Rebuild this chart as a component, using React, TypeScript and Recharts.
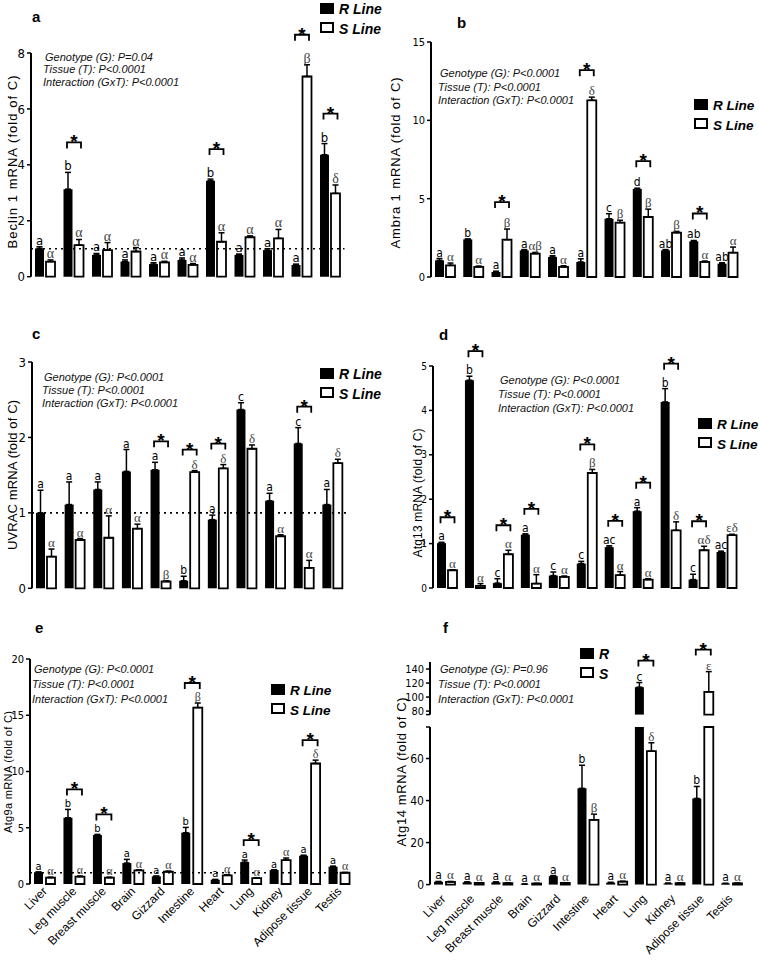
import { Bar, BarChart, ErrorBar, LabelList, ReferenceLine, XAxis, YAxis } from "recharts";

const FONT = "'Liberation Sans', Arial, sans-serif";
const NARROW = "'Liberation Sans Narrow', 'DejaVu Sans Condensed', 'Liberation Sans', sans-serif";
const SERIF = "'Liberation Serif', 'DejaVu Serif', serif";

const TISSUES = ["Liver", "Leg muscle", "Breast muscle", "Brain", "Gizzard", "Intestine", "Heart", "Lung", "Kidney", "Adipose tissue", "Testis"];

// a - Beclin 1
const BECLIN_R = [1.01, 3.13, 0.78, 0.54, 0.45, 0.6, 3.43, 0.78, 0.95, 0.42, 4.36];
const BECLIN_R_SEM = [0.06, 0.6, 0.05, 0.06, 0.05, 0.07, 0.06, 0.03, 0.05, 0.03, 0.4];
const BECLIN_S = [0.54, 1.13, 0.95, 0.9, 0.51, 0.42, 1.25, 1.41, 1.37, 7.16, 2.98];
const BECLIN_S_SEM = [0.06, 0.2, 0.27, 0.14, 0.04, 0.05, 0.32, 0.05, 0.32, 0.42, 0.3];
const BECLIN_R_LET = ["a", "b", "a", "a", "a", "a", "b", "a", "a", "a", "b"];
const BECLIN_S_LET = ["α", "α", "α", "α", "α", "α", "α", "α", "α", "β", "δ"];
const BECLIN_SIG = [false, true, false, false, false, false, true, false, false, true, true];

// b - Ambra 1
const AMBRA_R = [1.06, 2.4, 0.32, 1.7, 1.28, 0.96, 3.72, 5.62, 1.7, 2.28, 0.85];
const AMBRA_R_SEM = [0.12, 0.03, 0.05, 0.05, 0.08, 0.2, 0.32, 0.05, 0.05, 0.05, 0.06];
const AMBRA_S = [0.74, 0.64, 2.38, 1.49, 0.64, 11.28, 3.47, 3.83, 2.83, 0.96, 1.55];
const AMBRA_S_SEM = [0.15, 0.06, 0.68, 0.08, 0.08, 0.2, 0.15, 0.5, 0.08, 0.06, 0.36];
const AMBRA_R_LET = ["a", "b", "a", "a", "a", "a", "c", "d", "ab", "ab", "ab"];
const AMBRA_S_LET = ["α", "α", "β", "αβ", "α", "δ", "β", "β", "β", "α", "α"];
const AMBRA_SIG = [false, false, true, false, false, true, false, true, false, true, false];

// c - UVRAC
const UVRAC_R = [1.0, 1.11, 1.31, 1.55, 1.57, 0.1, 0.91, 2.37, 1.16, 1.92, 1.11];
const UVRAC_R_SEM = [0.3, 0.3, 0.1, 0.29, 0.1, 0.06, 0.06, 0.09, 0.1, 0.21, 0.2];
const UVRAC_S = [0.42, 0.64, 0.67, 0.79, 0.09, 1.54, 1.59, 1.85, 0.69, 0.27, 1.66];
const UVRAC_S_SEM = [0.1, 0.02, 0.29, 0.06, 0.01, 0.02, 0.05, 0.05, 0.02, 0.1, 0.05];
const UVRAC_R_LET = ["a", "a", "a", "a", "a", "b", "a", "c", "a", "c", "a"];
const UVRAC_S_LET = ["α", "α", "α", "α", "β", "δ", "δ", "δ", "α", "α", "δ"];
const UVRAC_SIG = [false, false, false, false, true, true, true, false, false, true, false];

// d - Atg13
const ATG13_R = [1.01, 4.68, 0.11, 1.2, 0.28, 0.55, 0.92, 1.73, 4.19, 0.19, 0.81];
const ATG13_R_SEM = [0.02, 0.09, 0.1, 0.02, 0.08, 0.05, 0.03, 0.08, 0.3, 0.12, 0.02];
const ATG13_S = [0.4, 0.05, 0.76, 0.1, 0.25, 2.59, 0.29, 0.19, 1.3, 0.85, 1.19];
const ATG13_S_SEM = [0.01, 0.05, 0.09, 0.2, 0.02, 0.08, 0.08, 0.02, 0.19, 0.09, 0.02];
const ATG13_R_LET = ["a", "b", "c", "a", "c", "c", "ac", "a", "b", "c", "ac"];
const ATG13_S_LET = ["α", "α", "α", "α", "α", "β", "α", "α", "δ", "αδ", "εδ"];
const ATG13_SIG = [true, true, true, true, false, true, true, true, true, true, false];

// e - Atg9a
const ATG9_R = [1.04, 5.89, 4.35, 1.86, 0.68, 4.56, 0.38, 1.95, 1.24, 2.51, 1.54];
const ATG9_R_SEM = [0.03, 0.74, 0.06, 0.33, 0.03, 0.47, 0.03, 0.18, 0.03, 0.05, 0.05];
const ATG9_S = [0.56, 0.65, 0.56, 1.21, 1.09, 15.68, 0.77, 0.53, 2.13, 10.71, 1.0];
const ATG9_S_SEM = [0.05, 0.06, 0.05, 0.05, 0.06, 0.41, 0.06, 0.03, 0.18, 0.3, 0.03];
const ATG9_R_LET = ["a", "b", "b", "a", "a", "b", "a", "a", "a", "a", "a"];
const ATG9_S_LET = ["α", "α", "α", "α", "α", "β", "α", "α", "α", "δ", "α"];
const ATG9_SIG = [false, true, true, false, false, true, false, true, false, true, false];

// f - Atg14 (broken axis)
const ATG14_R = [1.3, 1.1, 1.1, 0.2, 4.0, 45.8, 0.9, 114.1, 0.6, 41.0, 0.5];
const ATG14_R_SEM = [0.2, 0.2, 0.2, 0.1, 0.3, 11, 0.2, 6.6, 0.1, 5.7, 0.1];
const ATG14_S = [1.3, 0.8, 0.7, 0.5, 0.8, 30.8, 1.4, 63.5, 0.7, 107.3, 0.6];
const ATG14_S_SEM = [0.2, 0.1, 0.1, 0.1, 0.1, 2.7, 0.2, 4, 0.1, 29, 0.1];
const ATG14_R_LET = ["a", "a", "a", "a", "a", "b", "a", "c", "a", "b", "a"];
const ATG14_S_LET = ["α", "α", "α", "α", "α", "β", "α", "δ", "α", "ε", "α"];
const ATG14_SIG = [false, false, false, false, false, false, false, true, false, true, false];
const ATG14_BREAK = 75;

const STATS_A = ["Genotype (G): P=0.04", "Tissue (T): P<0.0001", "Interaction (GxT): P<0.0001"];
const STATS_B = ["Genotype (G): P<0.0001", "Tissue (T): P<0.0001", "Interaction (GxT): P<0.0001"];
const STATS_F = ["Genotype (G): P=0.96", "Tissue (T): P<0.0001", "Interaction (GxT): P<0.0001"];

type Series = {
  r: number[]; rErr: number[]; s: number[]; sErr: number[];
  rLet: string[]; sLet: string[]; sig: boolean[];
};

const BECLIN: Series = { r: BECLIN_R, rErr: BECLIN_R_SEM, s: BECLIN_S, sErr: BECLIN_S_SEM, rLet: BECLIN_R_LET, sLet: BECLIN_S_LET, sig: BECLIN_SIG };
const AMBRA: Series = { r: AMBRA_R, rErr: AMBRA_R_SEM, s: AMBRA_S, sErr: AMBRA_S_SEM, rLet: AMBRA_R_LET, sLet: AMBRA_S_LET, sig: AMBRA_SIG };
const UVRAC: Series = { r: UVRAC_R, rErr: UVRAC_R_SEM, s: UVRAC_S, sErr: UVRAC_S_SEM, rLet: UVRAC_R_LET, sLet: UVRAC_S_LET, sig: UVRAC_SIG };
const ATG13: Series = { r: ATG13_R, rErr: ATG13_R_SEM, s: ATG13_S, sErr: ATG13_S_SEM, rLet: ATG13_R_LET, sLet: ATG13_S_LET, sig: ATG13_SIG };
const ATG9: Series = { r: ATG9_R, rErr: ATG9_R_SEM, s: ATG9_S, sErr: ATG9_S_SEM, rLet: ATG9_R_LET, sLet: ATG9_S_LET, sig: ATG9_SIG };
const ATG14: Series = { r: ATG14_R, rErr: ATG14_R_SEM, s: ATG14_S, sErr: ATG14_S_SEM, rLet: ATG14_R_LET, sLet: ATG14_S_LET, sig: ATG14_SIG };

type PanelProps = {
  d: Series;
  left: number; top: number; w: number; h: number;
  domain: [number, number]; ticks: number[]; hideTick?: number;
  barSize: number; gap: number; bracket: number;
  tickFont: number; letFont: number;
  refY?: number;
  labels?: { dx: number; dy: number };
  part?: "lower" | "upper"; cut?: number;
};

const AXIS_W = 30;

function Panel(p: PanelProps) {
  const { d, domain, h } = p;
  const cut = p.cut ?? 0;
  const ratio = h / (domain[1] - domain[0]);
  const band = p.w / TISSUES.length;
  const seen = (v: number) => (p.part === "lower" ? v <= cut : p.part === "upper" ? v > cut : true);
  // upper part of a broken axis: bars below the break sit at the break (zero height)
  const val = (v: number) => (p.part === "lower" ? Math.min(v, cut) : seen(v) ? v : cut);
  const rows = TISSUES.map((name, i) => ({
    name,
    r: val(d.r[i]),
    s: val(d.s[i]),
    re: seen(d.r[i]) ? [0, d.rErr[i]] : null,
    se: seen(d.s[i]) ? [0, d.sErr[i]] : null
  }));

  const annot = (k: 0 | 1) => (props: any) => {
    const vb = props.viewBox && props.viewBox.width != null ? props.viewBox : props;
    if (vb.x == null || !vb.width) return null;
    const cx = vb.x + vb.width / 2;
    // which tissue this bar belongs to, from its band on the category axis
    const i = Math.floor((cx - AXIS_W) / band);
    if (i < 0 || i >= TISSUES.length) return null;
    const v = k === 0 ? d.r[i] : d.s[i];
    const e = k === 0 ? d.rErr[i] : d.sErr[i];
    if (!seen(v)) return null;
    const top = Math.min(vb.y, vb.y + vb.height);
    const errTop = top - e * ratio;
    const other = k === 0 ? d.s[i] + d.sErr[i] : d.r[i] + d.rErr[i];
    const taller = k === 0 ? v + e > other : v + e >= other;
    let bracket = null;
    if (d.sig[i] && taller) {
      const oc = k === 0 ? cx + vb.width + p.gap : cx - vb.width - p.gap;
      const x1 = Math.min(cx, oc) - 1;
      const x2 = Math.max(cx, oc) + 2;
      const by = errTop - p.bracket;
      bracket = (
        <g>
          <path d={`M${x1},${by + 6}V${by}H${x2}V${by + 6}`} fill="none" stroke="#000" strokeWidth={1.8} />
          <text x={(x1 + x2) / 2} y={by + 6} textAnchor="middle" fontSize={19} fontWeight="bold" fontFamily={FONT}>*</text>
        </g>
      );
    }
    return (
      <g>
        <text
          x={cx}
          y={errTop - 2}
          textAnchor="middle"
          fontSize={k === 0 ? p.letFont : p.letFont + 1}
          fill={k === 0 ? "#000" : "#444"}
          fontFamily={k === 0 ? NARROW : SERIF}
        >
          {k === 0 ? d.rLet[i] : d.sLet[i]}
        </text>
        {bracket}
      </g>
    );
  };

  const xh = p.labels ? 80 : 0;
  const bottom = p.labels ? 2 : 10;
  const tissueTick = (tp: any) => {
    const lx = tp.x + p.labels!.dx;
    const ly = tp.y + p.labels!.dy;
    return (
      <text x={lx} y={ly} transform={`rotate(-45 ${lx} ${ly})`} textAnchor="end" fontSize={12} fontFamily={FONT} fill="#000">
        {tp.payload.value}
      </text>
    );
  };

  return (
    <div style={{ position: "absolute", left: p.left - AXIS_W, top: p.top - 50 }}>
      <BarChart
        width={AXIS_W + p.w + 20}
        height={50 + h + xh + bottom}
        data={rows}
        margin={{ top: 50, right: 20, bottom, left: 0 }}
        barSize={p.barSize}
        barGap={p.gap}
      >
        {p.labels ? (
          <XAxis
            dataKey="name"
            interval={0}
            tickLine={false}
            axisLine={false}
            tickSize={0}
            tickMargin={0}
            height={xh}
            tick={tissueTick}
          />
        ) : (
          <XAxis dataKey="name" hide />
        )}
        <YAxis
          type="number"
          domain={domain}
          ticks={p.ticks}
          interval={0}
          width={AXIS_W}
          axisLine={{ stroke: "#000", strokeWidth: 2 }}
          tickLine={{ stroke: "#000", strokeWidth: 1.5 }}
          tickSize={4}
          tick={{ fontSize: p.tickFont, fill: "#000", fontFamily: NARROW }}
          tickFormatter={(v: number) => (v === p.hideTick ? "" : String(v))}
        />
        {p.refY != null && <ReferenceLine y={p.refY} stroke="#000" strokeWidth={1.6} strokeDasharray="2 4" />}
        <Bar dataKey="r" fill="#000" isAnimationActive={false}>
          <ErrorBar dataKey="re" width={3} stroke="#000" strokeWidth={1.5} direction="y" />
          <LabelList dataKey="r" content={annot(0)} />
        </Bar>
        <Bar dataKey="s" fill="#fff" stroke="#000" strokeWidth={1.8} isAnimationActive={false}>
          <ErrorBar dataKey="se" width={3} stroke="#000" strokeWidth={1.5} direction="y" />
          <LabelList dataKey="s" content={annot(1)} />
        </Bar>
      </BarChart>
    </div>
  );
}

function Stats({ x, y, lines, step }: { x: number; y: number; lines: string[]; step: number }) {
  return (
    <g fontFamily={FONT} fontStyle="italic" fontSize={11} fill="#111">
      {lines.map((t, i) => (
        <text key={t} x={x - (i === 0 ? 0 : 2)} y={y + i * step}>{t}</text>
      ))}
    </g>
  );
}

function Key({ x, y, r, s, font }: { x: number; y: number; r: string; s: string; font: number }) {
  return (
    <g fontFamily={FONT} fontStyle="italic" fontWeight="bold" fontSize={font}>
      <rect x={x} y={y} width={14} height={11} fill="#000" />
      <rect x={x + 1} y={y + 20} width={12} height={9} fill="#fff" stroke="#000" strokeWidth={2} />
      <text x={x + 19} y={y + 11}>{r}</text>
      <text x={x + 19} y={y + 31}>{s}</text>
    </g>
  );
}

function YTitle({ x, y, text, len, font }: { x: number; y: number; text: string; len: number; font: number }) {
  return (
    <text
      transform={`translate(${x},${y}) rotate(-90)`}
      textAnchor="middle"
      dominantBaseline="central"
      fontFamily={FONT}
      fontSize={font}
      textLength={len}
      lengthAdjust="spacing"
    >
      {text}
    </text>
  );
}

export default function App() {
  return (
    <div style={{ position: "absolute", left: 0, top: 0, width: 759, height: 966, background: "#fff", overflow: "hidden" }}>
      <Panel d={BECLIN} left={31} top={53.3} w={313.5} h={223.7} domain={[0, 8]} ticks={[0, 2, 4, 6, 8]}
        barSize={9} gap={2} bracket={30} tickFont={13} letFont={13} refY={1} />
      <Panel d={AMBRA} left={431} top={41.7} w={310.8} h={235} domain={[0, 15]} ticks={[0, 5, 10, 15]}
        barSize={9} gap={2} bracket={27} tickFont={11} letFont={12} />
      <Panel d={UVRAC} left={32.2} top={361.7} w={315} h={226.3} domain={[0, 3]} ticks={[0, 1, 2, 3]}
        barSize={9} gap={2} bracket={21} tickFont={13} letFont={12} refY={1} />
      <Panel d={ATG13} left={433} top={365.7} w={307.5} h={222} domain={[0, 5]} ticks={[0, 1, 2, 3, 4, 5]}
        barSize={9} gap={2} bracket={25} tickFont={10} letFont={12} />
      <Panel d={ATG9} left={29.6} top={659} w={324} h={225} domain={[0, 20]} ticks={[0, 5, 10, 15, 20]}
        barSize={9} gap={3} bracket={20} tickFont={11} letFont={11} refY={1} labels={{ dx: 3, dy: 8 }} />
      <Panel d={ATG14} left={429.5} top={661.7} w={315.7} h={52.6} domain={[75, 150]} ticks={[75, 80, 100, 120, 140]} hideTick={75}
        barSize={9} gap={3} bracket={22} tickFont={11} letFont={12} part="upper" cut={ATG14_BREAK} />
      <Panel d={ATG14} left={429.5} top={726.7} w={315.7} h={157.6} domain={[0, 75]} ticks={[0, 20, 40, 60, 75]} hideTick={75}
        barSize={9} gap={3} bracket={22} tickFont={12} letFont={12} part="lower" cut={ATG14_BREAK} labels={{ dx: 2, dy: 15 }} />

      <svg width={759} height={966} style={{ position: "absolute", left: 0, top: 0, pointerEvents: "none" }}>
        <g fontFamily={FONT} fontWeight="bold" fontSize={15}>
          <text x={32} y={22}>a</text>
          <text x={457} y={28}>b</text>
          <text x={32} y={339}>c</text>
          <text x={439} y={340}>d</text>
          <text x={35} y={633}>e</text>
          <text x={443} y={633}>f</text>
        </g>
        <Stats x={45} y={61} lines={STATS_A} step={12.3} />
        <Stats x={440} y={77} lines={STATS_B} step={13.5} />
        <Stats x={44} y={381} lines={STATS_B} step={13} />
        <Stats x={500} y={384} lines={STATS_B} step={14} />
        <Stats x={34} y={673} lines={STATS_B} step={15} />
        <Stats x={440} y={673} lines={STATS_F} step={15} />

        <Key x={320} y={3} r="R Line" s="S Line" font={14} />
        <Key x={694} y={99} r="R Line" s="S Line" font={13.5} />
        <Key x={320} y={368} r="R Line" s="S Line" font={14} />
        <Key x={698} y={418} r="R Line" s="S Line" font={13.5} />
        <Key x={271} y={684} r="R Line" s="S Line" font={13.5} />
        <Key x={580} y={648} r="R" s="S" font={14} />

        <YTitle x={12} y={162} text="Beclin 1 mRNA (fold of C)" len={173} font={13} />
        <YTitle x={395} y={163} text="Ambra 1 mRNA (fold of C)" len={171} font={13} />
        <YTitle x={12.5} y={475} text="UVRAC mRNA (fold of C)" len={150} font={13} />
        <YTitle x={417.5} y={493} text="Atg13 mRNA (fold of C)" len={129} font={12} />
        <YTitle x={8} y={772} text="Atg9a mRNA (fold of C)" len={122} font={11} />
        <YTitle x={401} y={772} text="Atg14 mRNA (fold of C)" len={149} font={13} />
      </svg>
    </div>
  );
}
